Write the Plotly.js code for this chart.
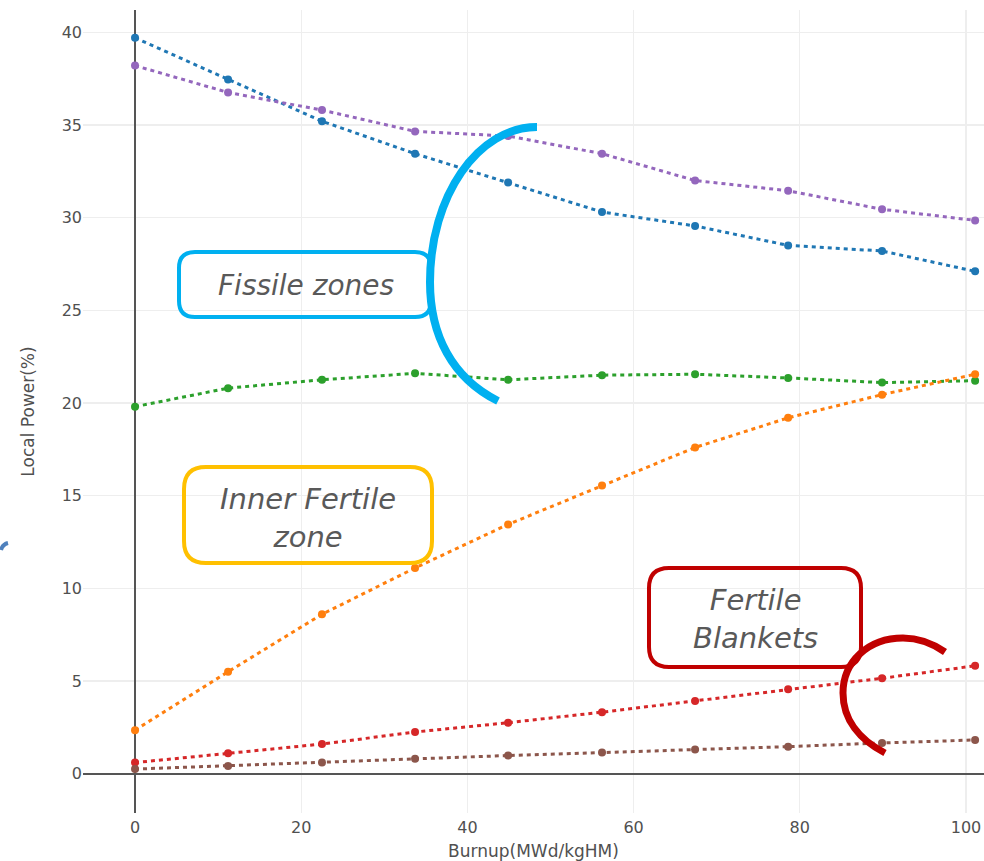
<!DOCTYPE html>
<html>
<head>
<meta charset="utf-8">
<script src="https://cdn.plot.ly/plotly-3.0.1.min.js"></script>
<style>html,body{margin:0;padding:0;background:#fff;}#chart{width:984px;height:861px;}</style>
</head>
<body>
<div id="chart"></div>
<script>
// ---- Data ----
const burnup = [0, 11.2, 22.5, 33.7, 44.9, 56.2, 67.4, 78.6, 89.9, 101.1];
const fissileA = [39.7, 37.45, 35.2, 33.45, 31.9, 30.3, 29.55, 28.5, 28.2, 27.1];
const fissileB = [38.2, 36.75, 35.8, 34.65, 34.4, 33.45, 32.0, 31.45, 30.45, 29.85];
const fissileC = [19.8, 20.8, 21.25, 21.6, 21.25, 21.5, 21.55, 21.35, 21.1, 21.2];
const innerFertile = [2.35, 5.5, 8.6, 11.1, 13.45, 15.55, 17.6, 19.2, 20.45, 21.55];
const blanketA = [0.6, 1.1, 1.6, 2.25, 2.75, 3.32, 3.92, 4.55, 5.15, 5.82];
const blanketB = [0.25, 0.42, 0.6, 0.8, 0.98, 1.14, 1.3, 1.46, 1.66, 1.82];
const seriesColors = ['#1f77b4', '#9467bd', '#2ca02c', '#ff7f0e', '#d62728', '#8c564b'];
const seriesValues = [fissileA, fissileB, fissileC, innerFertile, blanketA, blanketB];
const labelFissile = 'Fissile zones';
const labelInner = 'Inner Fertile<br>zone';
const labelBlankets = 'Fertile<br>Blankets';

// ---- Traces ----
const traces = seriesValues.map((ys, i) => ({
  x: burnup, y: ys, type: 'scatter', mode: 'lines+markers',
  line: {color: seriesColors[i], width: 3, dash: '4px,4px'},
  marker: {color: seriesColors[i], size: 8},
  showlegend: false, hoverinfo: 'x+y'
}));

// ---- Helpers for decorative overlays (pixel -> paper) ----
const W = 984, H = 861, ML = 83, MR = 0, MT = 10, MB = 48;
const PW = W - ML - MR, PH = H - MT - MB;
const px = X => ((X - ML) / PW).toFixed(5);
const py = Y => ((H - MB - Y) / PH).toFixed(5);
const P = (X, Y) => px(X) + ',' + py(Y);
function roundRect(x0, y0, x1, y1, r) {
  return 'M' + P(x0 + r, y0) + ' L' + P(x1 - r, y0) + ' Q' + P(x1, y0) + ' ' + P(x1, y0 + r) +
    ' L' + P(x1, y1 - r) + ' Q' + P(x1, y1) + ' ' + P(x1 - r, y1) +
    ' L' + P(x0 + r, y1) + ' Q' + P(x0, y1) + ' ' + P(x0, y1 - r) +
    ' L' + P(x0, y0 + r) + ' Q' + P(x0, y0) + ' ' + P(x0 + r, y0) + ' Z';
}
function shape(path, color, w) {
  return {type: 'path', xref: 'paper', yref: 'paper', path: path,
          line: {color: color, width: w}, fillcolor: 'rgba(0,0,0,0)', layer: 'above'};
}
const cyanArc = 'M' + P(537, 127) + ' C' + P(478, 127) + ' ' + P(430, 196) + ' ' + P(430, 282) +
  ' C' + P(430, 335) + ' ' + P(452, 378) + ' ' + P(498, 401);
const redArc = 'M' + P(945, 652) + ' C' + P(932, 643) + ' ' + P(918, 638) + ' ' + P(903, 638) +
  ' C' + P(868, 638) + ' ' + P(843, 662) + ' ' + P(843, 693) +
  ' C' + P(843, 720) + ' ' + P(860, 740) + ' ' + P(885, 753);
const blueBit = 'M' + P(1, 550) + ' C' + P(2, 546) + ' ' + P(4, 544) + ' ' + P(8, 543);

const shapes = [
  shape(roundRect(179, 252, 431, 317, 16), '#00b0f0', 4),
  shape(roundRect(184, 467, 432, 563, 22), '#ffc000', 4),
  shape(roundRect(649, 568, 861, 667, 20), '#c00000', 4),
  shape(cyanArc, '#00b0f0', 8),
  shape(redArc, '#c00000', 7),
  shape(blueBit, '#4f81bd', 4)
];
function note(text, X, Y, size) {
  return {text: text, xref: 'paper', yref: 'paper', x: +px(X), y: +py(Y),
          xanchor: 'center', yanchor: 'middle', showarrow: false,
          font: {family: 'DejaVu Sans, sans-serif', size: size, color: '#595959', style: 'italic'}};
}
const annotations = [
  note('<i>' + labelFissile + '</i>', 306, 285, 28),
  note('<i>' + labelInner + '</i>', 308, 518, 29),
  note('<i>' + labelBlankets + '</i>', 755, 619, 29)
];

const layout = {
  width: W, height: H,
  margin: {l: ML, r: MR, t: MT, b: MB, pad: 0},
  paper_bgcolor: '#fff', plot_bgcolor: '#fff',
  font: {family: 'DejaVu Sans, Verdana, sans-serif', color: '#444'},
  xaxis: {range: [-6.26, 102.17], tickvals: [0, 20, 40, 60, 80, 100],
          showgrid: true, gridcolor: '#eee', gridwidth: 1.3,
          zeroline: true, zerolinecolor: '#555', zerolinewidth: 1.6,
          tickfont: {size: 16, color: '#505050'}, ticklabelstandoff: 3,
          title: {text: 'Burnup(MWd/kgHM)', font: {size: 17, color: '#505050'}, standoff: 12}},
  yaxis: {range: [-2.12, 41.2], tickvals: [0, 5, 10, 15, 20, 25, 30, 35, 40],
          showgrid: true, gridcolor: '#eee', gridwidth: 1.3,
          zeroline: true, zerolinecolor: '#555', zerolinewidth: 1.6,
          tickfont: {size: 16, color: '#505050'},
          title: {text: 'Local Power(%)', font: {size: 17, color: '#505050'}, standoff: 22}},
  shapes: shapes, annotations: annotations, showlegend: false
};
Plotly.newPlot('chart', traces, layout, {displayModeBar: false, staticPlot: true});
</script>
</body>
</html>
